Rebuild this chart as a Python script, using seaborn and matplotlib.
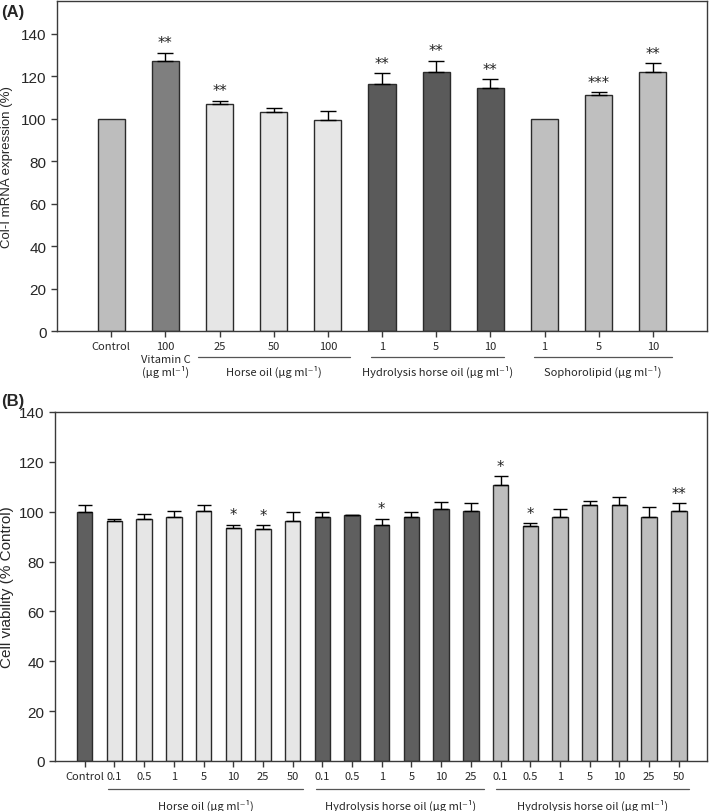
import matplotlib
matplotlib.use("Agg")
import matplotlib.pyplot as plt
import seaborn as sns
import pandas as pd
import numpy as np

# ---- Panel A: Col-I mRNA expression ----
a_ticks = ["Control", "100", "25", "50", "100", "1", "5", "10", "1", "5", "10"]
a_group = ["Control", "Vitamin C", "Horse oil", "Horse oil", "Horse oil",
           "Hydrolysis", "Hydrolysis", "Hydrolysis",
           "Sophorolipid", "Sophorolipid", "Sophorolipid"]
a_values = [100, 127.2, 106.9, 103.0, 99.4, 116.4, 121.9, 114.5, 100, 111.0, 121.9]
a_err = [0, 3.9, 1.7, 2.3, 4.1, 5.0, 5.4, 4.1, 0, 1.5, 4.2]
a_stars = ["", "**", "**", "", "", "**", "**", "**", "", "***", "**"]
a_colors = {"Control": "#bdbdbd", "Vitamin C": "#7f7f7f", "Horse oil": "#e6e6e6",
            "Hydrolysis": "#5a5a5a", "Sophorolipid": "#bfbfbf"}
# group underline spans (bar index units) and captions
a_spans = [(1.6, 4.4), (4.8, 7.25), (7.8, 10.35)]
a_captions = ["Horse oil (μg ml⁻¹)", "Hydrolysis horse oil (μg ml⁻¹)", "Sophorolipid (μg ml⁻¹)"]

# ---- Panel B: cell viability ----
b_ticks = ["Control", "0.1", "0.5", "1", "5", "10", "25", "50",
           "0.1", "0.5", "1", "5", "10", "25",
           "0.1", "0.5", "1", "5", "10", "25", "50"]
b_group = ["Control"] + ["Horse oil"] * 7 + ["Hydrolysis"] * 6 + ["Hydrolysis 2"] * 7
b_values = [100, 96.3, 96.9, 98.0, 100.4, 93.5, 93.2, 96.3,
            97.8, 98.5, 94.6, 98.0, 101.1, 100.4,
            110.7, 94.4, 98.0, 102.6, 102.6, 98.0, 100.4]
b_err = [2.7, 0.6, 2.3, 2.1, 2.2, 1.2, 1.4, 3.5,
         2.2, 0.2, 2.6, 1.9, 2.8, 3.0,
         3.6, 1.0, 2.9, 1.7, 3.2, 3.9, 3.0]
b_stars = ["", "", "", "", "", "*", "*", "",
           "", "", "*", "", "", "",
           "*", "*", "", "", "", "", "**"]
b_colors = {"Control": "#5f5f5f", "Horse oil": "#e6e6e6",
            "Hydrolysis": "#5f5f5f", "Hydrolysis 2": "#bebebe"}
b_spans = [(0.8, 7.35), (7.8, 13.45), (13.85, 20.35)]
b_captions = ["Horse oil (μg ml⁻¹)", "Hydrolysis horse oil (μg ml⁻¹)", "Hydrolysis horse oil (μg ml⁻¹)"]

sns.set_style("white")
plt.rcParams["font.family"] = ["Liberation Sans", "DejaVu Sans"]
kr_font = ["Noto Sans CJK KR", "DejaVu Sans"]
num_font = ["Liberation Sans Narrow", "Liberation Sans", "DejaVu Sans"]
spine_color = "#3a3a3a"

fig = plt.figure(figsize=(7.09, 8.12), dpi=100)
ax_a = fig.add_axes([57 / 709, 1 - 332 / 812, 650 / 709, 330 / 812])
ax_b = fig.add_axes([55 / 709, 1 - 762 / 812, 652 / 709, 349 / 812])


def draw_panel(ax, ticks, groups, values, errs, stars, colors, width, capsize, star_gap):
    n = len(values)
    ids = [f"b{i:02d}" for i in range(n)]
    df = pd.DataFrame({"id": ids, "value": values, "group": groups})
    pal = [colors[g] for g in groups]
    sns.barplot(data=df, x="id", y="value", hue="id", order=ids, hue_order=ids,
                palette=pal, legend=False, width=width, edgecolor="#2b2b2b",
                linewidth=1.0, saturation=1, ax=ax)
    x = np.arange(n)
    v = np.array(values)
    e = np.array(errs)
    m = e > 0
    ax.errorbar(x[m], v[m], yerr=[np.zeros(m.sum()), e[m]], fmt="none",
                ecolor="black", elinewidth=1.0, capsize=capsize, capthick=1.0)
    for xi, vi, ei, s in zip(x, v, e, stars):
        if s:
            ax.text(xi, vi + ei + star_gap, s, ha="center", va="bottom",
                    fontsize=10.5, family="DejaVu Sans", color="#222222")
    ax.set_xticks(x)
    ax.set_xticklabels(ticks, family=kr_font, fontsize=8)
    ax.set_xlabel("")
    for sp in ax.spines.values():
        sp.set_visible(True)
        sp.set_color(spine_color)
        sp.set_linewidth(1.0)
    ax.tick_params(axis="both", direction="out", length=4, width=1,
                   color=spine_color, bottom=True, left=True)
    ax.tick_params(axis="x", pad=3)


def draw_groups(ax, spans, captions, line_y, cap_y):
    trans = ax.get_xaxis_transform()
    for (x0, x1), cap in zip(spans, captions):
        ax.plot([x0, x1], [line_y, line_y], color="#555555", lw=0.9,
                transform=trans, clip_on=False)
        ax.text((x0 + x1) / 2, cap_y, cap, transform=trans, ha="center",
                va="center", fontsize=8, family=kr_font)


# Panel A
draw_panel(ax_a, a_ticks, a_group, a_values, a_err, a_stars, a_colors,
           width=0.5, capsize=5.5, star_gap=1.2)
ax_a.set_xlim(-1, 11)
ax_a.set_ylim(0, 155.5)
ax_a.set_yticks(np.arange(0, 141, 20))
for lab in ax_a.get_yticklabels():
    lab.set_family(num_font)
    lab.set_fontsize(11)
ax_a.set_ylabel("Col-I mRNA expression (%)", fontsize=9.5, labelpad=6)
draw_groups(ax_a, a_spans, a_captions, -0.078, -0.122)
trans_a = ax_a.get_xaxis_transform()
ax_a.text(1, -0.086, "Vitamin C", transform=trans_a, ha="center", va="center",
          fontsize=8, family=kr_font)
ax_a.text(1, -0.122, "(μg ml⁻¹)", transform=trans_a, ha="center", va="center",
          fontsize=8, family=kr_font)

# Panel B
draw_panel(ax_b, b_ticks, b_group, b_values, b_err, b_stars, b_colors,
           width=0.52, capsize=5, star_gap=1.0)
ax_b.set_xlim(-1.0, 20.95)
ax_b.set_ylim(0, 140)
ax_b.set_yticks(np.arange(0, 141, 20))
for lab in ax_b.get_yticklabels():
    lab.set_family(num_font)
    lab.set_fontsize(11)
ax_b.set_ylabel("Cell viability (% Control)", fontsize=11)
draw_groups(ax_b, b_spans, b_captions, -0.080, -0.126)

fig.text(0.002, 1 - 13 / 812, "(A)", fontsize=12, fontweight="bold", va="center")
fig.text(0.002, 1 - 402 / 812, "(B)", fontsize=12, fontweight="bold", va="center")

fig.savefig("out.png", dpi=100)
